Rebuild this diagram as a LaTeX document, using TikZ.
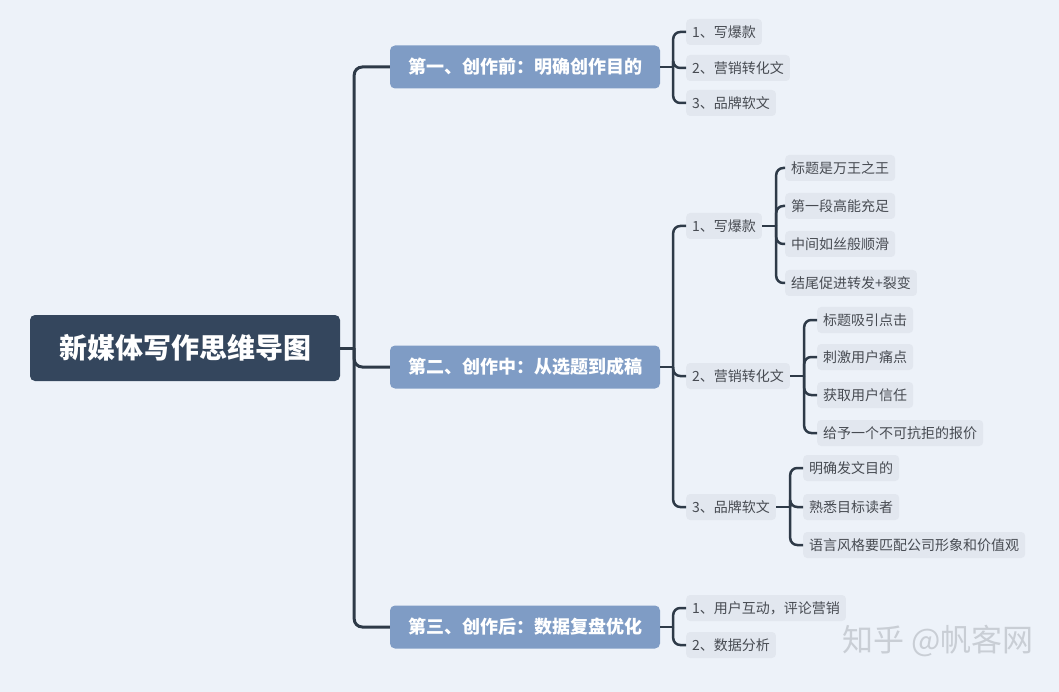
\documentclass[tikz,border=0pt]{standalone}
\usepackage{fontspec}
\newfontfamily\cjk{Noto Sans CJK SC}
\definecolor{bgc}{HTML}{EDF2F9}
\definecolor{rootc}{HTML}{34465D}
\definecolor{lonec}{HTML}{7F9CC5}
\definecolor{ltwoc}{HTML}{E2E7EF}
\definecolor{linec}{HTML}{2E3A48}
\definecolor{txtc}{HTML}{474B52}
\definecolor{wmc}{HTML}{C9CED5}
\begin{document}
\begin{tikzpicture}[x=1pt,y=-1pt,
  rootbox/.style={fill=rootc,rounded corners=5pt,text=white,font=\cjk\bfseries\fontsize{28}{32}\selectfont,minimum width=310pt,minimum height=66pt,inner sep=0pt},
  lonebox/.style={fill=lonec,rounded corners=5pt,text=white,font=\cjk\bfseries\fontsize{18}{22}\selectfont,minimum width=270pt,minimum height=43pt,inner sep=0pt},
  ltwobox/.style={fill=ltwoc,rounded corners=4pt,text=txtc,font=\cjk\fontsize{14}{17}\selectfont,minimum height=26pt,inner xsep=6pt,inner ysep=0pt,anchor=west},
  trunk/.style={draw=linec,line width=3pt,rounded corners=8pt},
  conn/.style={draw=linec,line width=2.5pt,rounded corners=7pt},
  wmark/.style={text=wmc,font=\cjk\fontsize{31}{34}\selectfont}
]
\fill[bgc] (0,0) rectangle (1059,692);
\useasboundingbox (0,0) rectangle (1059,692);

% root and level one
\node[rootbox] (r) at (185,348) {新媒体写作思维导图};
\node[lonebox] (a) at (525,67) {第一、创作前：明确创作目的};
\node[lonebox] (b) at (525,367) {第二、创作中：从选题到成稿};
\node[lonebox] (c) at (525,627) {第三、创作后：数据复盘优化};

\draw[trunk] (r.east) -- ++(14,0) coordinate (rj);
\draw[trunk] (rj) |- (a.west);
\draw[trunk] (rj) |- (b.west);
\draw[trunk] (rj) |- (c.west);

% group a
\node[ltwobox] (a1) at (686,32) {1、写爆款};
\node[ltwobox] (a2) at (686,68) {2、营销转化文};
\node[ltwobox] (a3) at (686,103) {3、品牌软文};
\draw[conn] (a.east) -- ++(13,0) coordinate (aj);
\foreach \n in {a1,a2,a3} \draw[conn] (aj) |- (\n.west);

% group b
\node[ltwobox] (b1) at (686,226) {1、写爆款};
\node[ltwobox] (b2) at (686,376) {2、营销转化文};
\node[ltwobox] (b3) at (686,507) {3、品牌软文};
\draw[conn] (b.east) -- ++(13,0) coordinate (bj);
\foreach \n in {b1,b2,b3} \draw[conn] (bj) |- (\n.west);

\node[ltwobox] (b11) at (785,168) {标题是万王之王};
\node[ltwobox] (b12) at (785,206) {第一段高能充足};
\node[ltwobox] (b13) at (785,244) {中间如丝般顺滑};
\node[ltwobox] (b14) at (785,283) {结尾促进转发+裂变};
\draw[conn] (b1.east) -- ++(14,0) coordinate (b1j);
\foreach \n in {b11,b12,b13,b14} \draw[conn] (b1j) |- (\n.west);

\node[ltwobox] (b21) at (817,320) {标题吸引点击};
\node[ltwobox] (b22) at (817,357) {刺激用户痛点};
\node[ltwobox] (b23) at (817,395) {获取用户信任};
\node[ltwobox] (b24) at (817,433) {给予一个不可抗拒的报价};
\draw[conn] (b2.east) -- ++(14,0) coordinate (b2j);
\foreach \n in {b21,b22,b23,b24} \draw[conn] (b2j) |- (\n.west);

\node[ltwobox] (b31) at (803,468) {明确发文目的};
\node[ltwobox] (b32) at (803,507) {熟悉目标读者};
\node[ltwobox] (b33) at (803,545) {语言风格要匹配公司形象和价值观};
\draw[conn] (b3.east) -- ++(14,0) coordinate (b3j);
\foreach \n in {b31,b32,b33} \draw[conn] (b3j) |- (\n.west);

% group c
\node[ltwobox] (c1) at (686,608) {1、用户互动，评论营销};
\node[ltwobox] (c2) at (686,645) {2、数据分析};
\draw[conn] (c.east) -- ++(13,0) coordinate (cj);
\foreach \n in {c1,c2} \draw[conn] (cj) |- (\n.west);

% watermark
\node[wmark] (wm) at (938,641) {知乎 @帆客网};
\end{tikzpicture}
\end{document}
